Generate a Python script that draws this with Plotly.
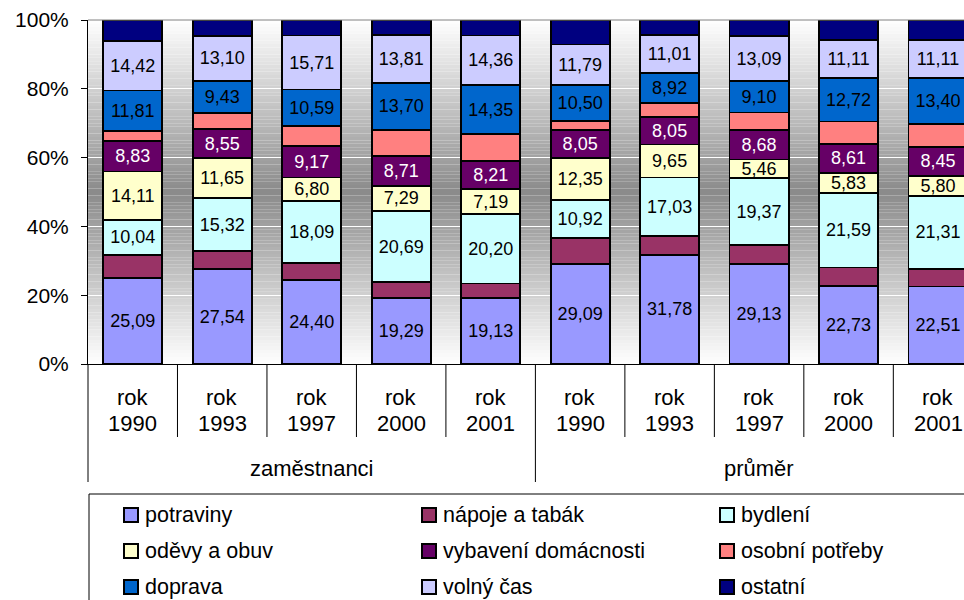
import plotly.graph_objects as go

# ---------------- data ----------------
groups = ["zaměstnanci", "průměr"]
years = ["1990", "1993", "1997", "2000", "2001", "1990", "1993", "1997", "2000", "2001"]
year_prefix = "rok"

series_names = ["potraviny", "nápoje a tabák", "bydlení", "oděvy a obuv",
                "vybavení domácnosti", "osobní potřeby", "doprava", "volný čas", "ostatní"]

potraviny = [25.09, 27.54, 24.40, 19.29, 19.13, 29.09, 31.78, 29.13, 22.73, 22.51]
napoje_a_tabak = [6.7, 5.3, 4.9, 4.5, 4.3, 7.6, 5.4, 5.5, 5.3, 5.1]
bydleni = [10.04, 15.32, 18.09, 20.69, 20.20, 10.92, 17.03, 19.37, 21.59, 21.31]
odevy_a_obuv = [14.11, 11.65, 6.80, 7.29, 7.19, 12.35, 9.65, 5.46, 5.83, 5.80]
vybaveni_domacnosti = [8.83, 8.55, 9.17, 8.71, 8.21, 8.05, 8.05, 8.68, 8.61, 8.45]
osobni_potreby = [2.9, 4.5, 5.8, 7.6, 7.8, 2.6, 3.9, 5.0, 6.4, 6.6]
doprava = [11.81, 9.43, 10.59, 13.70, 14.35, 10.50, 8.92, 9.10, 12.72, 13.40]
volny_cas = [14.42, 13.10, 15.71, 13.81, 14.36, 11.79, 11.01, 13.09, 11.11, 11.11]
ostatni = [6.1, 4.6, 4.5, 4.4, 4.5, 7.1, 4.3, 4.7, 5.7, 5.7]

series_values = [potraviny, napoje_a_tabak, bydleni, odevy_a_obuv, vybaveni_domacnosti,
                 osobni_potreby, doprava, volny_cas, ostatni]
labeled = [True, False, True, True, True, False, True, True, False]

y_tickvals = [0, 20, 40, 60, 80, 100]
y_ticktext = ["0%", "20%", "40%", "60%", "80%", "100%"]

# ---------------- styles ----------------
colors = ["#9999FF", "#993366", "#CCFFFF", "#FFFFCC", "#660066",
          "#FF8080", "#0066CC", "#CCCCFF", "#000080"]
text_colors = ["black", "black", "black", "black", "white", "black", "black", "black", "white"]
FONT = "Liberation Sans, Arial, sans-serif"

W, H = 964, 600
ML, MR, MT, MB = 88, 0, 20, 236
PW = W - ML - MR
PH = H - MT - MB
CAT_W = 89.48  # pixel width of one category


def px_x(px):
    return (px - ML) / PW


def px_y(py):
    return (H - MB - py) / PH


n = len(years)
x = list(range(n))

fig = go.Figure()
for name, vals, col, tcol, lab in zip(series_names, series_values, colors, text_colors, labeled):
    fig.add_trace(go.Bar(
        x=x, y=vals, name=name,
        marker=dict(color=col, line=dict(color="black", width=1.8)),
        width=0.66,
        text=[f"{v:.2f}".replace(".", ",") for v in vals] if lab else None,
        textposition="inside" if lab else "none",
        insidetextanchor="middle",
        textangle=0,
        textfont=dict(family=FONT, size=18, color=tcol),
        showlegend=False,
        hovertemplate=name + ": %{y:.2f}%<extra></extra>",
    ))

shapes = []
# gradient background (white - gray - white)
steps = 100
for k in range(steps):
    y0 = 100 * k / steps
    y1 = 100 * (k + 1) / steps
    mid = (y0 + y1) / 2
    t = 1 - abs(mid - 50) / 50
    g = int(round(255 - (255 - 138) * t))
    shapes.append(dict(type="rect", xref="paper", yref="y", x0=0, x1=1, y0=y0, y1=y1,
                       fillcolor=f"rgb({g},{g},{g})", line=dict(width=0), layer="below"))

# top border of plot area
shapes.append(dict(type="line", xref="paper", yref="paper", x0=0, x1=1, y0=1, y1=1,
                   line=dict(color="#808080", width=1), layer="above"))

# category separators below the axis
for i in range(n + 1):
    bx = i - 0.5
    is_group = (i % 5 == 0)
    y_end = px_y(482) if is_group else px_y(437)
    if i == 0:
        shapes.append(dict(type="line", xref="paper", yref="paper", x0=0, x1=0,
                           y0=0, y1=y_end, line=dict(color="black", width=1)))
    else:
        shapes.append(dict(type="line", xref="x", yref="paper", x0=bx, x1=bx,
                           y0=0, y1=y_end, line=dict(color="black", width=1)))

# legend box
shapes.append(dict(type="rect", xref="paper", yref="paper",
                   x0=px_x(89), x1=px_x(1000), y0=px_y(494), y1=px_y(640),
                   line=dict(color="black", width=1), fillcolor="rgba(0,0,0,0)"))

annotations = []
# x category labels
for i, yr in enumerate(years):
    annotations.append(dict(x=i, y=px_y(397.5), xref="x", yref="paper", text=year_prefix,
                            showarrow=False, xanchor="center", yanchor="middle",
                            font=dict(family=FONT, size=22, color="black")))
    annotations.append(dict(x=i, y=px_y(423.5), xref="x", yref="paper", text=yr,
                            showarrow=False, xanchor="center", yanchor="middle",
                            font=dict(family=FONT, size=22, color="black")))
# group labels
for gi, gname in enumerate(groups):
    annotations.append(dict(x=gi * 5 + 2, y=px_y(468), xref="x", yref="paper", text=gname,
                            showarrow=False, xanchor="center", yanchor="middle",
                            font=dict(family=FONT, size=22, color="black")))

# manual legend (3 columns)
leg_cols = [124, 422, 720]
leg_rows = [515, 551, 587]
msz = 14
for k, (name, col) in enumerate(zip(series_names, colors)):
    r, c = divmod(k, 3)
    lx = leg_cols[c]
    ly = leg_rows[r]
    shapes.append(dict(type="rect", xref="paper", yref="paper",
                       x0=px_x(lx), x1=px_x(lx + msz), y0=px_y(ly + msz / 2), y1=px_y(ly - msz / 2),
                       fillcolor=col, line=dict(color="black", width=2)))
    annotations.append(dict(x=px_x(lx + msz + 5), y=px_y(ly), xref="paper", yref="paper",
                            text=name, showarrow=False, xanchor="left", yanchor="middle",
                            font=dict(family=FONT, size=21.5, color="black")))

fig.update_layout(
    width=W, height=H,
    margin=dict(l=ML, r=MR, t=MT, b=MB),
    barmode="stack", barnorm="percent",
    paper_bgcolor="white", plot_bgcolor="rgba(0,0,0,0)",
    font=dict(family=FONT, size=20, color="black"),
    showlegend=False,
    shapes=shapes, annotations=annotations,
    uniformtext=dict(minsize=18, mode="show"),
    xaxis=dict(range=[-0.5, -0.5 + PW / CAT_W], showticklabels=False, ticks="",
               showgrid=False, zeroline=False, showline=True, linecolor="black", linewidth=1),
    yaxis=dict(range=[0, 100], tickmode="array", tickvals=y_tickvals, ticktext=y_ticktext,
               ticks="outside",
               ticklen=6, tickcolor="black", showline=True, linecolor="black", linewidth=1,
               showgrid=True, gridcolor="white", gridwidth=1, zeroline=False,
               tickfont=dict(family=FONT, size=21, color="black"), ticklabelstandoff=8),
)

fig.write_html("out.html",
               config={"displayModeBar": False},
               post_script="document.body.style.margin='0px';document.body.style.overflow='hidden';")
